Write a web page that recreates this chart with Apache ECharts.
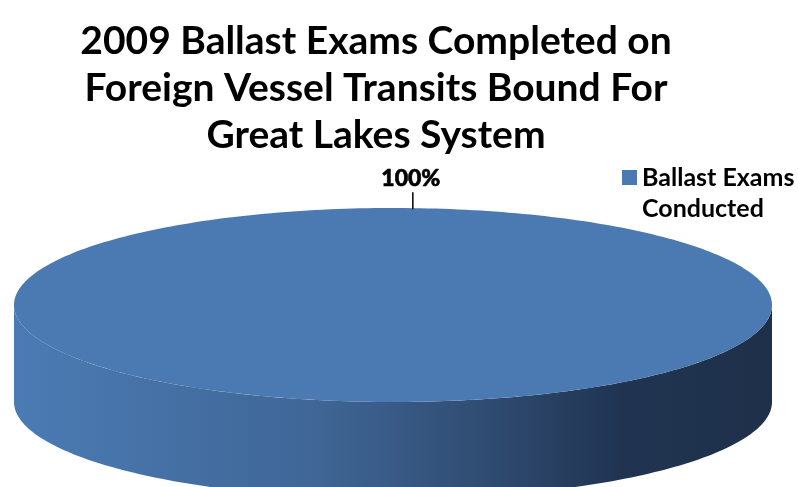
<!DOCTYPE html>
<html>
<head>
<meta charset="utf-8">
<title>2009 Ballast Exams</title>
<script src="https://cdn.jsdelivr.net/npm/echarts@6/dist/echarts.min.js"></script>
</head>
<body style="margin:0">
<div id="main" style="width:798px;height:487px;"></div>
<script type="text/javascript">
var titleLines = ['2009 Ballast Exams Completed on', 'Foreign Vessel Transits Bound For', 'Great Lakes System'];
var categories = ['Ballast Exams\nConducted'];
var values = [100];
var colors = ['#4a7ab1'];

var total = values.reduce(function (a, b) { return a + b; }, 0);
// layout of the tilted pie (top face ellipse + side depth)
var pie = { cx: 393, cy: 305, rx: 379, ry: 97, depth: 97, start: -87 * Math.PI / 180 };

var sideStops = [
    { offset: 0, color: '#4b7bb4' },
    { offset: 0.4, color: '#3f6696' },
    { offset: 0.62, color: '#304c72' },
    { offset: 0.8, color: '#203452' },
    { offset: 1, color: '#1e3049' }
];

function arcPts(from, to, dy, pts) {
    var n = Math.max(2, Math.ceil(Math.abs(to - from) / 0.02));
    for (var k = 0; k <= n; k++) {
        var a = from + (to - from) * k / n;
        pts.push([pie.cx + pie.rx * Math.cos(a), pie.cy + pie.ry * Math.sin(a) + dy]);
    }
}

// parts of [a0, a1] facing the viewer (sin > 0)
function frontRanges(a0, a1) {
    var out = [];
    for (var k = -2; k <= 2; k++) {
        var s = Math.max(a0, 2 * Math.PI * k), e = Math.min(a1, 2 * Math.PI * k + Math.PI);
        if (e > s) out.push([s, e]);
    }
    return out;
}

function renderItem(params, api) {
    var i = params.dataIndex;
    var before = 0;
    for (var k = 0; k < i; k++) before += values[k];
    var a0 = pie.start + before / total * 2 * Math.PI;
    var a1 = a0 + api.value(0) / total * 2 * Math.PI;
    var children = [];
    frontRanges(a0, a1).forEach(function (r) {
        var pts = [];
        arcPts(r[0], r[1], 0, pts);
        arcPts(r[1], r[0], pie.depth, pts);
        children.push({
            type: 'polygon', shape: { points: pts },
            style: { fill: new echarts.graphic.LinearGradient(0, 0, 1, 0, sideStops) }
        });
    });
    var top = [];
    var full = a1 - a0 > 2 * Math.PI - 1e-6;
    if (!full) top.push([pie.cx, pie.cy]);
    arcPts(a0, a1, 0, top);
    children.push({ type: 'polygon', shape: { points: top }, style: { fill: colors[i] } });

    var la = full ? a0 : (a0 + a1) / 2;
    var px = pie.cx + pie.rx * Math.cos(la), py = pie.cy + pie.ry * Math.sin(la);
    children.push({
        type: 'line', shape: { x1: px, y1: py + 1, x2: px, y2: py - 16 },
        style: { stroke: '#000', lineWidth: 1.5 }
    });
    children.push({
        type: 'text',
        style: {
            text: Math.round(api.value(0) / total * 100) + '%',
            x: px - 2, y: py - 18, align: 'center', verticalAlign: 'bottom',
            fontFamily: 'Lato', fontWeight: 900, fontSize: 23, fill: '#000',
            stroke: '#000', lineWidth: 0.6
        }
    });
    return { type: 'group', children: children };
}

var myChart = echarts.init(document.getElementById('main'));
var option = {
    backgroundColor: '#fff',
    animation: false,
    title: {
        text: titleLines.join('\n'),
        left: 371, top: 13, textAlign: 'center',
        textStyle: { fontFamily: 'Lato', fontWeight: 'bold', fontSize: 39, lineHeight: 47, color: '#000' }
    },
    legend: {
        left: 622, top: 162, padding: 0,
        // square at the top of a tall box so it lines up with the first text line
        icon: 'path://M0,0H15V15H0Z M0,46L0.01,46',
        itemWidth: 15, itemHeight: 46,
        data: [categories[0]],
        textStyle: { fontFamily: 'Lato', fontWeight: 'bold', fontSize: 25, lineHeight: 31, color: '#000' }
    },
    series: [{
        type: 'custom',
        name: categories[0],
        coordinateSystem: 'none',
        itemStyle: { color: colors[0] },
        renderItem: renderItem,
        data: values.map(function (v) { return [v]; })
    }]
};
myChart.setOption(option);
</script>
</body>
</html>
